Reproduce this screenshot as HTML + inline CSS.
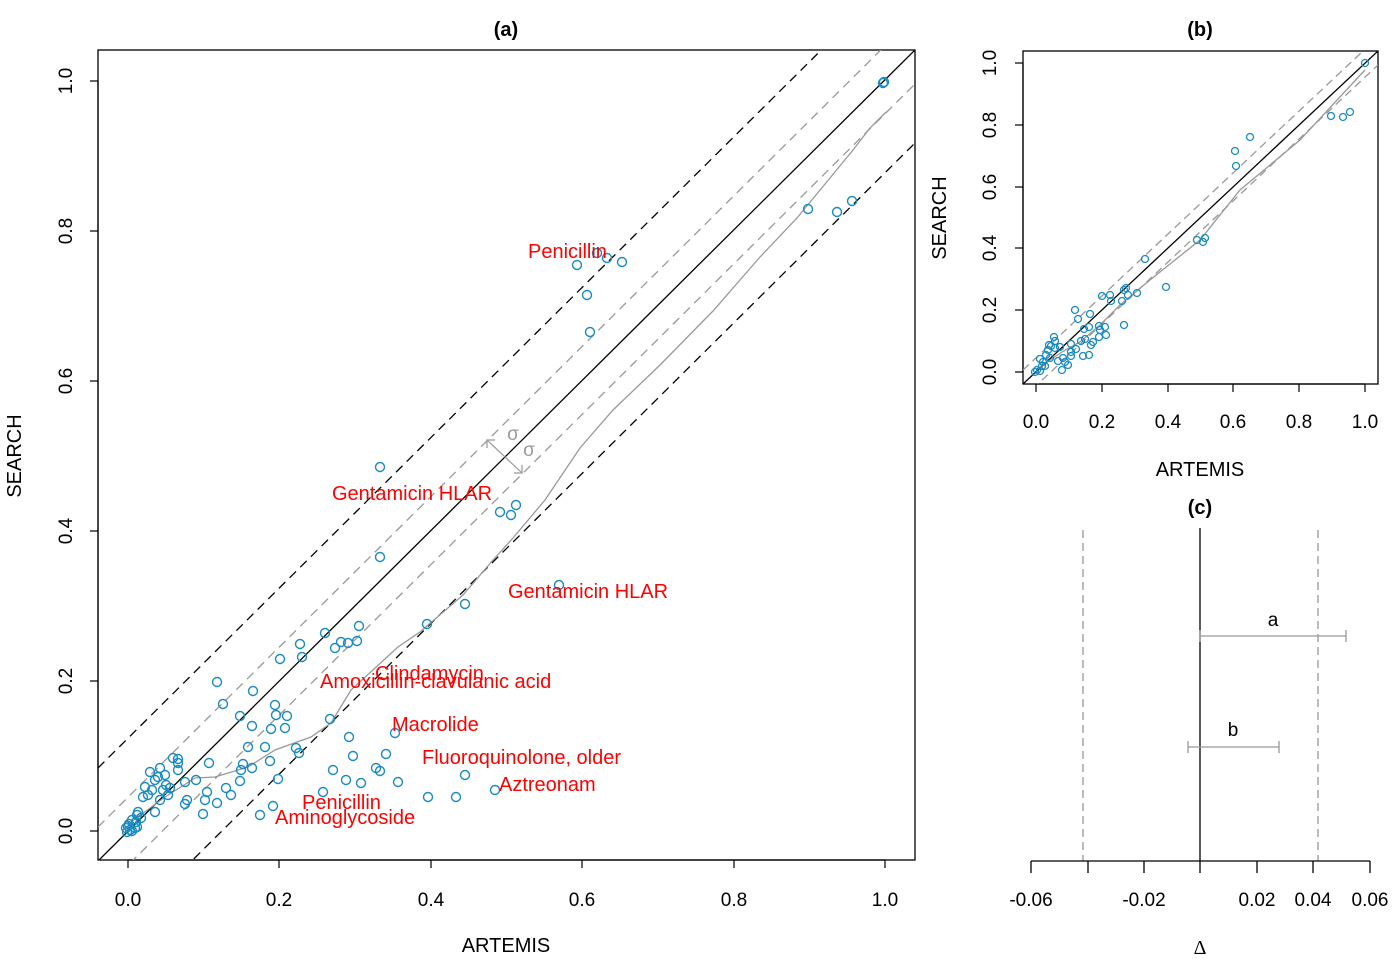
<!DOCTYPE html>
<html><head><meta charset="utf-8"><style>
body{margin:0;background:#fff}
svg{display:block;font-family:"Liberation Sans",sans-serif}
</style></head><body>
<svg width="1393" height="960" viewBox="0 0 1393 960" xmlns="http://www.w3.org/2000/svg">
<defs><clipPath id="ca"><rect x="98" y="50" width="817" height="810"/></clipPath>
<clipPath id="cb"><rect x="1023" y="51" width="355" height="333"/></clipPath></defs>
<!-- Panel a -->
<rect x="98" y="50" width="817" height="810" fill="none" stroke="#000" stroke-width="1.3"/>
<text x="506" y="36" font-size="20" font-weight="bold" text-anchor="middle">(a)</text>
<g stroke="#000" stroke-width="1.2">
<line x1="128" y1="860" x2="885" y2="860"/>
<line x1="128" y1="860" x2="128" y2="868"/><line x1="279" y1="860" x2="279" y2="868"/><line x1="431" y1="860" x2="431" y2="868"/><line x1="582" y1="860" x2="582" y2="868"/><line x1="734" y1="860" x2="734" y2="868"/><line x1="885" y1="860" x2="885" y2="868"/>
<line x1="98" y1="81" x2="98" y2="831"/>
<line x1="90" y1="831" x2="98" y2="831"/><line x1="90" y1="681" x2="98" y2="681"/><line x1="90" y1="531" x2="98" y2="531"/><line x1="90" y1="381" x2="98" y2="381"/><line x1="90" y1="231" x2="98" y2="231"/><line x1="90" y1="81" x2="98" y2="81"/>
</g>
<g font-size="19" text-anchor="middle">
<text x="128" y="906">0.0</text><text x="279" y="906">0.2</text><text x="431" y="906">0.4</text><text x="582" y="906">0.6</text><text x="734" y="906">0.8</text><text x="885" y="906">1.0</text>
<text transform="translate(72,831) rotate(-90)">0.0</text><text transform="translate(72,681) rotate(-90)">0.2</text><text transform="translate(72,531) rotate(-90)">0.4</text><text transform="translate(72,381) rotate(-90)">0.6</text><text transform="translate(72,231) rotate(-90)">0.8</text><text transform="translate(72,81) rotate(-90)">1.0</text>
<text x="506" y="952" font-size="20">ARTEMIS</text>
<text transform="translate(21,456) rotate(-90)" font-size="20">SEARCH</text>
</g>
<g clip-path="url(#ca)" fill="none">
<line x1="98" y1="861" x2="915" y2="50" stroke="#000" stroke-width="1.3"/>
<line x1="98" y1="768" x2="915" y2="-43" stroke="#000" stroke-width="1.3" stroke-dasharray="9,6"/>
<line x1="98" y1="954" x2="915" y2="143" stroke="#000" stroke-width="1.3" stroke-dasharray="9,6"/>
<line x1="98" y1="827" x2="915" y2="16" stroke="#999" stroke-width="1.3" stroke-dasharray="9,6"/>
<line x1="98" y1="895" x2="915" y2="84" stroke="#999" stroke-width="1.3" stroke-dasharray="9,6"/>
<polyline stroke="#999" stroke-width="1.3" points="128,828 131,822 165,797 195,778 215,777 248,767 275,750 311,737 331,723 351,690 398,647 420,632 463,595 493,560 513,538 545,500 580,448 613,410 660,365 713,311 760,257 797,218 830,178 853,150 870,128 886,112"/>
<line x1="487" y1="440" x2="522" y2="473" stroke="#999" stroke-width="1.2"/>
<polyline points="487,448 487,440 495,440" stroke="#999" stroke-width="1.2"/>
<polyline points="514,473 522,473 522,465" stroke="#999" stroke-width="1.2"/>
</g>
<text x="513" y="440" font-size="19" fill="#999" text-anchor="middle">σ</text>
<text x="529" y="456" font-size="19" fill="#999" text-anchor="middle">σ</text>
<g fill="none" stroke="#1a8bc0" stroke-width="1.4">
<circle cx="884" cy="82" r="4.5"/><circle cx="883" cy="83" r="4.5"/><circle cx="808" cy="209" r="4.5"/><circle cx="837" cy="212" r="4.5"/><circle cx="852" cy="201" r="4.5"/>
<circle cx="577" cy="265" r="4.5"/><circle cx="587" cy="295" r="4.5"/><circle cx="590" cy="332" r="4.5"/><circle cx="597" cy="253" r="4.5"/><circle cx="607" cy="258" r="4.5"/><circle cx="622" cy="262" r="4.5"/>
<circle cx="380" cy="467" r="4.5"/><circle cx="380" cy="557" r="4.5"/><circle cx="500" cy="512" r="4.5"/><circle cx="511" cy="515" r="4.5"/><circle cx="516" cy="505" r="4.5"/>
<circle cx="559" cy="585" r="4.5"/><circle cx="465" cy="604" r="4.5"/><circle cx="427" cy="624" r="4.5"/>
<circle cx="325" cy="633" r="4.5"/><circle cx="300" cy="644" r="4.5"/><circle cx="359" cy="626" r="4.5"/><circle cx="357" cy="641" r="4.5"/><circle cx="341" cy="642" r="4.5"/><circle cx="348" cy="643" r="4.5"/><circle cx="335" cy="648" r="4.5"/><circle cx="302" cy="657" r="4.5"/><circle cx="280" cy="659" r="4.5"/>
<circle cx="217" cy="682" r="4.5"/><circle cx="253" cy="691" r="4.5"/><circle cx="223" cy="704" r="4.5"/><circle cx="240" cy="716" r="4.5"/><circle cx="287" cy="716" r="4.5"/><circle cx="330" cy="719" r="4.5"/><circle cx="285" cy="728" r="4.5"/><circle cx="275" cy="705" r="4.5"/><circle cx="276" cy="715" r="4.5"/><circle cx="252" cy="726" r="4.5"/><circle cx="271" cy="729" r="4.5"/><circle cx="248" cy="747" r="4.5"/><circle cx="265" cy="747" r="4.5"/><circle cx="252" cy="768" r="4.5"/><circle cx="270" cy="761" r="4.5"/><circle cx="243" cy="764" r="4.5"/><circle cx="241" cy="770" r="4.5"/>
<circle cx="296" cy="748" r="4.5"/><circle cx="299" cy="753" r="4.5"/><circle cx="349" cy="737" r="4.5"/><circle cx="353" cy="756" r="4.5"/><circle cx="386" cy="754" r="4.5"/><circle cx="395" cy="733" r="4.5"/><circle cx="376" cy="768" r="4.5"/><circle cx="380" cy="771" r="4.5"/><circle cx="333" cy="770" r="4.5"/><circle cx="346" cy="780" r="4.5"/><circle cx="361" cy="783" r="4.5"/><circle cx="398" cy="782" r="4.5"/><circle cx="465" cy="775" r="4.5"/><circle cx="428" cy="797" r="4.5"/><circle cx="456" cy="797" r="4.5"/><circle cx="495" cy="790" r="4.5"/><circle cx="323" cy="792" r="4.5"/><circle cx="273" cy="806" r="4.5"/><circle cx="260" cy="815" r="4.5"/>
<circle cx="278" cy="779" r="4.5"/><circle cx="240" cy="781" r="4.5"/><circle cx="203" cy="814" r="4.5"/><circle cx="205" cy="800" r="4.5"/><circle cx="207" cy="792" r="4.5"/><circle cx="217" cy="803" r="4.5"/><circle cx="231" cy="795" r="4.5"/><circle cx="226" cy="788" r="4.5"/><circle cx="209" cy="763" r="4.5"/><circle cx="196" cy="780" r="4.5"/><circle cx="187" cy="800" r="4.5"/><circle cx="185" cy="804" r="4.5"/><circle cx="178" cy="770" r="4.5"/><circle cx="178" cy="759" r="4.5"/><circle cx="173" cy="758" r="4.5"/><circle cx="178" cy="763" r="4.5"/><circle cx="160" cy="768" r="4.5"/><circle cx="155" cy="780" r="4.5"/><circle cx="152" cy="790" r="4.5"/><circle cx="148" cy="795" r="4.5"/><circle cx="143" cy="797" r="4.5"/><circle cx="160" cy="800" r="4.5"/><circle cx="168" cy="795" r="4.5"/><circle cx="170" cy="788" r="4.5"/><circle cx="165" cy="775" r="4.5"/><circle cx="150" cy="772" r="4.5"/><circle cx="158" cy="777" r="4.5"/><circle cx="145" cy="787" r="4.5"/><circle cx="163" cy="790" r="4.5"/><circle cx="166" cy="785" r="4.5"/><circle cx="155" cy="812" r="4.5"/><circle cx="185" cy="782" r="4.5"/><circle cx="138" cy="812" r="4.5"/>
<circle cx="141" cy="818" r="4.5"/><circle cx="137" cy="815" r="4.5"/><circle cx="132" cy="820" r="4.5"/><circle cx="136" cy="822" r="4.5"/><circle cx="128" cy="826" r="4.5"/><circle cx="130" cy="830" r="4.5"/><circle cx="126" cy="828" r="4.5"/><circle cx="132" cy="831" r="4.5"/><circle cx="127" cy="832" r="4.5"/><circle cx="135" cy="828" r="4.5"/><circle cx="129" cy="824" r="4.5"/><circle cx="137" cy="827" r="4.5"/>
</g>
<g fill="#ff0000" font-size="20">
<text x="528" y="258">Penicillin</text>
<text x="332" y="500">Gentamicin HLAR</text>
<text x="508" y="598">Gentamicin HLAR</text>
<text x="375" y="680">Clindamycin</text>
<text x="320" y="688">Amoxicillin-clavulanic acid</text>
<text x="392" y="731">Macrolide</text>
<text x="422" y="764">Fluoroquinolone, older</text>
<text x="499" y="791">Aztreonam</text>
<text x="302" y="809">Penicillin</text>
<text x="275" y="824">Aminoglycoside</text>
</g>
<!-- Panel b -->
<rect x="1023" y="51" width="355" height="333" fill="none" stroke="#000" stroke-width="1.3"/>
<text x="1200" y="36" font-size="20" font-weight="bold" text-anchor="middle">(b)</text>
<g stroke="#000" stroke-width="1.2">
<line x1="1036" y1="384" x2="1365" y2="384"/>
<line x1="1036" y1="384" x2="1036" y2="392"/><line x1="1102" y1="384" x2="1102" y2="392"/><line x1="1168" y1="384" x2="1168" y2="392"/><line x1="1233" y1="384" x2="1233" y2="392"/><line x1="1299" y1="384" x2="1299" y2="392"/><line x1="1365" y1="384" x2="1365" y2="392"/>
<line x1="1023" y1="63" x2="1023" y2="372"/>
<line x1="1015" y1="372" x2="1023" y2="372"/><line x1="1015" y1="310" x2="1023" y2="310"/><line x1="1015" y1="248" x2="1023" y2="248"/><line x1="1015" y1="187" x2="1023" y2="187"/><line x1="1015" y1="125" x2="1023" y2="125"/><line x1="1015" y1="63" x2="1023" y2="63"/>
</g>
<g font-size="19" text-anchor="middle">
<text x="1036" y="428">0.0</text><text x="1102" y="428">0.2</text><text x="1168" y="428">0.4</text><text x="1233" y="428">0.6</text><text x="1299" y="428">0.8</text><text x="1365" y="428">1.0</text>
<text transform="translate(996,372) rotate(-90)">0.0</text><text transform="translate(996,310) rotate(-90)">0.2</text><text transform="translate(996,248) rotate(-90)">0.4</text><text transform="translate(996,187) rotate(-90)">0.6</text><text transform="translate(996,125) rotate(-90)">0.8</text><text transform="translate(996,63) rotate(-90)">1.0</text>
<text x="1200" y="476" font-size="20">ARTEMIS</text>
<text transform="translate(946,218) rotate(-90)" font-size="20">SEARCH</text>
</g>
<g clip-path="url(#cb)" fill="none">
<line x1="1023" y1="384" x2="1378" y2="51" stroke="#000" stroke-width="1.3"/>
<line x1="1023" y1="370" x2="1378" y2="37" stroke="#999" stroke-width="1.3" stroke-dasharray="8,5"/>
<line x1="1023" y1="398" x2="1378" y2="65" stroke="#999" stroke-width="1.3" stroke-dasharray="8,5"/>
<polyline stroke="#999" stroke-width="1.3" points="1036,370 1050,360 1062,352 1080,342 1100,325 1120,305 1150,280 1200,240 1240,190 1300,140 1365,70"/>
</g>
<g fill="none" stroke="#1a8bc0" stroke-width="1.3">
<circle cx="1365" cy="63" r="3.5"/><circle cx="1331" cy="116" r="3.5"/><circle cx="1343" cy="117" r="3.5"/><circle cx="1350" cy="112" r="3.5"/><circle cx="1235" cy="151" r="3.5"/><circle cx="1236" cy="166" r="3.5"/><circle cx="1250" cy="137" r="3.5"/><circle cx="1197" cy="240" r="3.5"/><circle cx="1203" cy="242" r="3.5"/><circle cx="1205" cy="238" r="3.5"/><circle cx="1145" cy="259" r="3.5"/><circle cx="1166" cy="287" r="3.5"/><circle cx="1122" cy="301" r="3.5"/><circle cx="1111" cy="301" r="3.5"/><circle cx="1102" cy="296" r="3.5"/><circle cx="1110" cy="295" r="3.5"/><circle cx="1126" cy="288" r="3.5"/><circle cx="1128" cy="295" r="3.5"/><circle cx="1137" cy="293" r="3.5"/><circle cx="1124" cy="290" r="3.5"/><circle cx="1075" cy="310" r="3.5"/><circle cx="1078" cy="319" r="3.5"/><circle cx="1090" cy="314" r="3.5"/><circle cx="1124" cy="325" r="3.5"/><circle cx="1084" cy="329" r="3.5"/><circle cx="1089" cy="327" r="3.5"/><circle cx="1099" cy="326" r="3.5"/><circle cx="1100" cy="330" r="3.5"/><circle cx="1105" cy="327" r="3.5"/><circle cx="1106" cy="335" r="3.5"/><circle cx="1099" cy="337" r="3.5"/><circle cx="1093" cy="342" r="3.5"/><circle cx="1085" cy="339" r="3.5"/><circle cx="1091" cy="345" r="3.5"/><circle cx="1081" cy="341" r="3.5"/><circle cx="1089" cy="355" r="3.5"/><circle cx="1071" cy="344" r="3.5"/><circle cx="1076" cy="349" r="3.5"/><circle cx="1083" cy="356" r="3.5"/><circle cx="1071" cy="352" r="3.5"/><circle cx="1065" cy="362" r="3.5"/><circle cx="1058" cy="361" r="3.5"/><circle cx="1071" cy="356" r="3.5"/><circle cx="1063" cy="358" r="3.5"/><circle cx="1068" cy="365" r="3.5"/><circle cx="1062" cy="370" r="3.5"/><circle cx="1049" cy="345" r="3.5"/><circle cx="1055" cy="341" r="3.5"/><circle cx="1054" cy="337" r="3.5"/><circle cx="1051" cy="346" r="3.5"/><circle cx="1048" cy="350" r="3.5"/><circle cx="1046" cy="355" r="3.5"/><circle cx="1040" cy="359" r="3.5"/><circle cx="1043" cy="362" r="3.5"/><circle cx="1037" cy="370" r="3.5"/><circle cx="1035" cy="372" r="3.5"/><circle cx="1040" cy="371" r="3.5"/><circle cx="1042" cy="366" r="3.5"/><circle cx="1050" cy="358" r="3.5"/><circle cx="1055" cy="348" r="3.5"/><circle cx="1060" cy="347" r="3.5"/><circle cx="1045" cy="366" r="3.5"/>
</g>
<!-- Panel c -->
<text x="1200" y="514" font-size="20" font-weight="bold" text-anchor="middle">(c)</text>
<g stroke-width="1.3" fill="none">
<line x1="1083" y1="530" x2="1083" y2="861" stroke="#999" stroke-dasharray="8,5"/>
<line x1="1318" y1="530" x2="1318" y2="861" stroke="#999" stroke-dasharray="8,5"/>
<line x1="1200" y1="528" x2="1200" y2="861" stroke="#000"/>
<line x1="1200" y1="636" x2="1346" y2="636" stroke="#999"/>
<line x1="1200" y1="630" x2="1200" y2="642" stroke="#999"/><line x1="1346" y1="630" x2="1346" y2="642" stroke="#999"/>
<line x1="1188" y1="747" x2="1279" y2="747" stroke="#999"/>
<line x1="1188" y1="741" x2="1188" y2="753" stroke="#999"/><line x1="1279" y1="741" x2="1279" y2="753" stroke="#999"/>
<g stroke="#000">
<line x1="1031" y1="861" x2="1370" y2="861"/>
<line x1="1031" y1="861" x2="1031" y2="873"/><line x1="1088" y1="861" x2="1088" y2="873"/><line x1="1144" y1="861" x2="1144" y2="873"/><line x1="1200" y1="861" x2="1200" y2="873"/><line x1="1257" y1="861" x2="1257" y2="873"/><line x1="1313" y1="861" x2="1313" y2="873"/><line x1="1370" y1="861" x2="1370" y2="873"/>
</g>
</g>
<g font-size="19" text-anchor="middle">
<text x="1273" y="626">a</text><text x="1233" y="736">b</text>
<text x="1031" y="906">-0.06</text><text x="1144" y="906">-0.02</text><text x="1257" y="906">0.02</text><text x="1313" y="906">0.04</text><text x="1370" y="906">0.06</text>
<text x="1200" y="954" font-size="20" font-family="Liberation Serif,serif">Δ</text>
</g>
</svg>
</body></html>
